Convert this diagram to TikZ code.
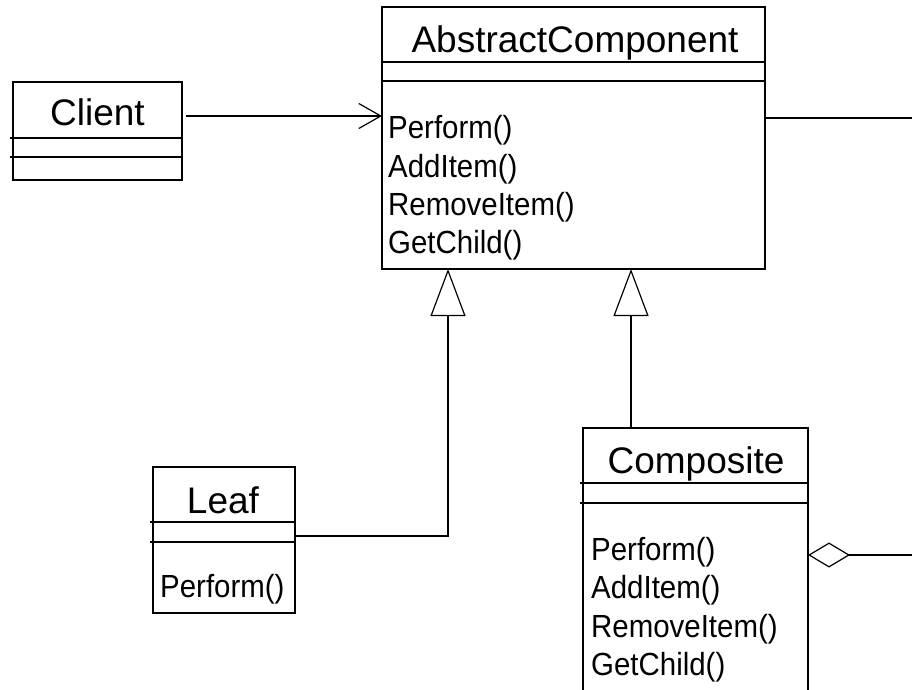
\documentclass[tikz,border=0pt]{standalone}
\usepackage{fontspec}
\setmainfont{Liberation Sans}
\newfontfamily\methodfont[FakeStretch=0.92]{Liberation Sans}
\usetikzlibrary{arrows.meta}

\begin{document}
\begin{tikzpicture}[x=1pt,y=-1pt,
  classbox/.style={draw, line width=2pt, inner sep=0pt, outer sep=0pt, anchor=north west},
  sep/.style={line width=2pt},
  title/.style={anchor=base, inner sep=0pt, font=\fontsize{37}{40}\selectfont},
  op/.style={anchor=base west, inner sep=0pt, font=\methodfont\fontsize{32}{36}\selectfont},
  link/.style={line width=2pt},
  navig/.style={link, -{Straight Barb[length=22pt,width=25pt,line width=1.2pt]}},
  inherit/.style={link, -{Triangle[open,length=47pt,width=35pt,line width=1.2pt]}},
  aggr/.style={link, {Diamond[open,length=42pt,width=25pt,line width=1.2pt]}-},
]
\useasboundingbox (0,0) rectangle (912,689);

% class boxes
\node[classbox, minimum width=169pt, minimum height=98pt]  (client) at (13,82)  {};
\node[classbox, minimum width=383pt, minimum height=262pt] (ac)     at (382,7)  {};
\node[classbox, minimum width=142pt, minimum height=146pt] (leaf)   at (153,467) {};
\node[classbox, minimum width=225pt, minimum height=290pt] (comp)   at (583,428) {};

% compartment separators
\draw[sep] (10,138) -- (182,138);  \draw[sep] (10,157) -- (182,157);
\draw[sep] (382,62) -- (765,62);   \draw[sep] (382,81) -- (765,81);
\draw[sep] (150,522) -- (295,522); \draw[sep] (150,542) -- (295,542);
\draw[sep] (580,483) -- (808,483); \draw[sep] (580,503) -- (808,503);

% class names
\node[title] (client-name) at (97.5,125) {Client};
\node[title] (ac-name)     at (575,52)   {AbstractComponent};
\node[title] (leaf-name)   at (223,513)  {Leaf};
\node[title] (comp-name)   at (696,473)  {Composite};

% operations
\node[op] (ac-op1) at (388,138) {Perform()};
\node[op] (ac-op2) at (388,177) {AddItem()};
\node[op] (ac-op3) at (388,215) {RemoveItem()};
\node[op] (ac-op4) at (388,253) {GetChild()};

\node[op] (leaf-op1) at (160,597) {Perform()};

\node[op] (comp-op1) at (591,560) {Perform()};
\node[op] (comp-op2) at (591,598) {AddItem()};
\node[op] (comp-op3) at (591,637) {RemoveItem()};
\node[op] (comp-op4) at (591,675) {GetChild()};

% relations
\draw[navig, shorten <=4pt] (client.east |- 0,116) -- (ac.west |- 0,116);
\draw[inherit] (leaf.east |- 0,536) -| (ac.south -| 448,0);
\draw[inherit] (comp.north -| 631,0) -- (ac.south -| 631,0);

\coordinate (selfend) at (914,118);
\draw[link] (ac.east |- 0,118) -- (selfend);

\coordinate (aggrend) at (914,555);
\draw[aggr] (comp.east |- 0,555) -- (aggrend);
\end{tikzpicture}
\end{document}
